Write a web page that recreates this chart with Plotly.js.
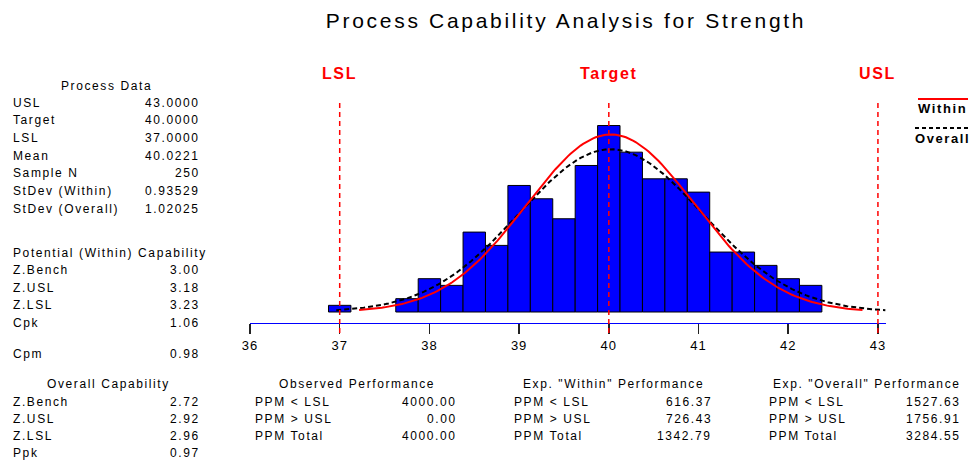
<!DOCTYPE html>
<html>
<head>
<meta charset="utf-8">
<script src="https://cdn.plot.ly/plotly-3.0.1.min.js"></script>
<style>
  html, body { margin: 0; padding: 0; background: #fff; }
  #chart { width: 975px; height: 461px; }
  .annotation-text { letter-spacing: 1.6px; }
  .gtitle { letter-spacing: 2.7px; }
  .xtick text { letter-spacing: 1px; }
</style>
</head>
<body>
<div id="chart"></div>
<script>
// Histogram of Strength: bin centres (width 0.25) and counts
const binCenters = [37.0, 37.75, 38.0, 38.25, 38.5, 38.75, 39.0, 39.25, 39.5, 39.75,
                    40.0, 40.25, 40.5, 40.75, 41.0, 41.25, 41.5, 41.75, 42.0, 42.25];
const counts = [1, 2, 5, 4, 12, 10, 19, 17, 14, 22,
                28, 24, 20, 20, 18, 9, 9, 7, 5, 4];
const binWidth = 0.25;

// Specification limits
const specNames = ['LSL', 'Target', 'USL'];
const specValues = [37, 40, 43];

// Fitted distributions
const sampleN = 250;
const mean = 40.0221;
const sdWithin = 0.93529;
const sdOverall = 1.02025;

// Axis ticks
const tickValues = [36, 37, 38, 39, 40, 41, 42, 43];

// Summary tables
const processLabels = ['USL', 'Target', 'LSL', 'Mean', 'Sample N', 'StDev (Within)', 'StDev (Overall)'];
const processValues = ['43.0000', '40.0000', '37.0000', '40.0221', '250', '0.93529', '1.02025'];
const potentialLabels = ['Z.Bench', 'Z.USL', 'Z.LSL', 'Cpk'];
const potentialValues = ['3.00', '3.18', '3.23', '1.06'];
const cpmLabel = 'Cpm';
const cpmValue = '0.98';
const overallLabels = ['Z.Bench', 'Z.USL', 'Z.LSL', 'Ppk'];
const overallValues = ['2.72', '2.92', '2.96', '0.97'];
const ppmLabels = ['PPM &lt; LSL', 'PPM &gt; USL', 'PPM Total'];
const observedValues = ['4000.00', '0.00', '4000.00'];
const expWithinValues = ['616.37', '726.43', '1342.79'];
const expOverallValues = ['1527.63', '1756.91', '3284.55'];

// ---- layout geometry (pixels) ----
const W = 975, H = 461;
const M = { l: 250, r: 89, t: 60, b: 138 };
const plotW = W - M.l - M.r;
const plotH = H - M.t - M.b;
const pxPerCount = 6.66;
const baseGap = 11; // bars sit this far above the axis line
const yMin = -baseGap / pxPerCount;
const yMax = yMin + plotH / pxPerCount;

const px = x => (x - M.l) / plotW;
const py = y => (H - M.b - y) / plotH;

// normal curve scaled to histogram counts, drawn over mean ± 3 sd
function normalCurve(mu, sd) {
  const xs = [], ys = [];
  const n = 200;
  for (let i = 0; i <= n; i++) {
    const x = mu - 3 * sd + (6 * sd) * i / n;
    const z = (x - mu) / sd;
    xs.push(x);
    ys.push(sampleN * binWidth * Math.exp(-0.5 * z * z) / (sd * Math.sqrt(2 * Math.PI)));
  }
  return { xs, ys };
}
const within = normalCurve(mean, sdWithin);
const overall = normalCurve(mean, sdOverall);

const FONT = 'Liberation Sans, Arial, sans-serif';

const traces = [
  {
    type: 'bar', x: binCenters, y: counts, width: binWidth,
    marker: { color: '#0000ff', line: { color: '#000', width: 1 } },
    hoverinfo: 'skip'
  },
  {
    type: 'scatter', mode: 'lines', x: overall.xs, y: overall.ys,
    line: { color: '#000', width: 2, dash: '5px,3px' }, hoverinfo: 'skip'
  },
  {
    type: 'scatter', mode: 'lines', x: within.xs, y: within.ys,
    line: { color: '#ff0000', width: 2 }, hoverinfo: 'skip'
  }
];

const annotations = [];
const shapes = [];

function addText(text, xPix, yPix, anchor, opts) {
  opts = opts || {};
  annotations.push({
    text: text, xref: 'paper', yref: 'paper',
    x: px(xPix), y: py(yPix), xanchor: anchor, yanchor: 'middle',
    showarrow: false, borderpad: 0,
    font: { family: FONT, size: opts.size || 12, color: opts.color || '#000',
            weight: opts.weight || 'normal' }
  });
}

// specification lines and labels
specValues.forEach((v, i) => {
  shapes.push({
    type: 'line', xref: 'x', yref: 'paper', x0: v, x1: v,
    y0: py(333), y1: py(102),
    line: { color: '#ff0000', width: 1.5, dash: '5px,4px' }
  });
  annotations.push({
    text: specNames[i], xref: 'x', yref: 'paper', x: v, y: py(73),
    xanchor: 'center', yanchor: 'middle', showarrow: false,
    font: { family: FONT, size: 16, color: '#ff0000', weight: 'bold' }
  });
});

// legend
shapes.push({ type: 'line', xref: 'paper', yref: 'paper', x0: px(918), x1: px(968), y0: py(99), y1: py(99),
  line: { color: '#ff0000', width: 2 } });
shapes.push({ type: 'line', xref: 'paper', yref: 'paper', x0: px(915), x1: px(968), y0: py(128), y1: py(128),
  line: { color: '#000', width: 2, dash: '4px,3px' } });
addText('Within', 942, 108, 'center', { size: 13, weight: 'bold' });
addText('Overall', 942, 138, 'center', { size: 13, weight: 'bold' });

// left panel
const step = 17.7;
addText('Process Data', 106, 86, 'center');
processLabels.forEach((t, i) => {
  addText(t, 12, 102.5 + i * step, 'left');
  addText(processValues[i], 201, 102.5 + i * step, 'right');
});
addText('Potential (Within) Capability', 12, 252.5, 'left');
potentialLabels.forEach((t, i) => {
  addText(t, 12, 270 + i * step, 'left');
  addText(potentialValues[i], 201, 270 + i * step, 'right');
});
addText(cpmLabel, 12, 354, 'left');
addText(cpmValue, 201, 354, 'right');

// bottom panels
const bStep = 17.2;
const bTop = 401.5;
addText('Overall Capability', 108, 384, 'center');
overallLabels.forEach((t, i) => {
  addText(t, 12, bTop + i * bStep, 'left');
  addText(overallValues[i], 201, bTop + i * bStep, 'right');
});

const perfBlocks = [
  { title: 'Observed Performance', cx: 357, lx: 254, rx: 458, vals: observedValues },
  { title: 'Exp. "Within" Performance', cx: 613, lx: 513, rx: 713, vals: expWithinValues },
  { title: 'Exp. "Overall" Performance', cx: 867, lx: 768, rx: 962, vals: expOverallValues }
];
perfBlocks.forEach(b => {
  addText(b.title, b.cx, 384, 'center');
  ppmLabels.forEach((t, i) => {
    addText(t, b.lx, bTop + i * bStep, 'left');
    addText(b.vals[i], b.rx, bTop + i * bStep, 'right');
  });
});

const layout = {
  width: W, height: H,
  margin: M,
  paper_bgcolor: '#fff', plot_bgcolor: '#fff',
  showlegend: false,
  title: {
    text: 'Process Capability Analysis for Strength',
    font: { family: FONT, size: 21, color: '#000' },
    x: 566 / W, xref: 'container', xanchor: 'center',
    y: 1 - 21 / H, yref: 'container', yanchor: 'middle'
  },
  xaxis: {
    range: [36, 43.09], tickmode: 'array', tickvals: tickValues,
    ticks: 'outside', ticklen: 10, tickwidth: 1.5, tickcolor: '#222',
    showline: true, linecolor: '#0000ff', linewidth: 1,
    showgrid: false, zeroline: false, fixedrange: true,
    tickfont: { family: FONT, size: 13, color: '#000' }
  },
  yaxis: {
    range: [yMin, yMax], visible: false, showgrid: false, zeroline: false, fixedrange: true
  },
  bargap: 0,
  shapes: shapes,
  annotations: annotations
};

Plotly.newPlot('chart', traces, layout, { staticPlot: true, displayModeBar: false });
</script>
</body>
</html>
